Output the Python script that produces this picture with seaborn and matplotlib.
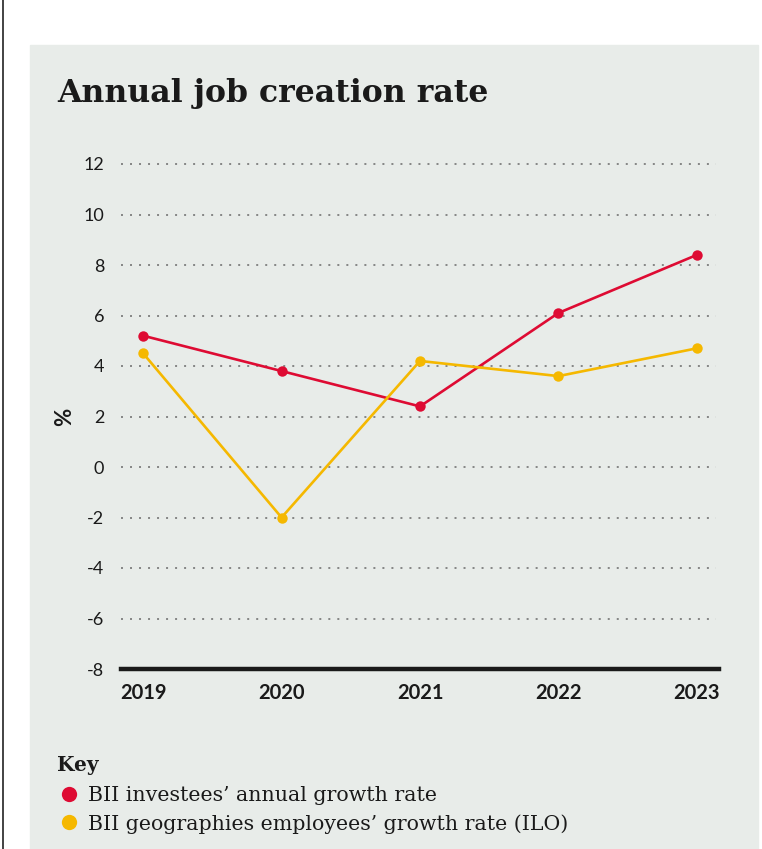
import matplotlib
matplotlib.use("Agg")
import matplotlib.pyplot as plt
from matplotlib.patches import Rectangle
from matplotlib.lines import Line2D
import seaborn as sns
import pandas as pd

# Data
years = [2019, 2020, 2021, 2022, 2023]
investees_growth = [5.2, 3.8, 2.4, 6.1, 8.4]
geographies_growth = [4.5, -2.0, 4.2, 3.6, 4.7]
series_names = ["BII investees’ annual growth rate",
                "BII geographies employees’ growth rate (ILO)"]
y_ticks = [12, 10, 8, 6, 4, 2, 0, -2, -4, -6, -8]

RED = "#DE0B33"
YELLOW = "#F5B800"
PANEL = "#E8ECE9"

df = pd.DataFrame({
    "year": years * 2,
    "value": investees_growth + geographies_growth,
    "series": [series_names[0]] * len(years) + [series_names[1]] * len(years),
})

sns.set_theme(style="white")
plt.rcParams["font.family"] = ["Lato", "DejaVu Sans"]

W, H = 762, 849
fig = plt.figure(figsize=(W / 100, H / 100), dpi=100)
fig.patch.set_facecolor("white")

# Background panel and left rule
fig.add_artist(Rectangle((30 / W, 0), (758 - 30) / W, (849 - 45) / H,
                         transform=fig.transFigure, color=PANEL, zorder=0))
fig.add_artist(Line2D([2.5 / W, 2.5 / W], [0, 1], transform=fig.transFigure,
                      color="#222222", lw=1.2))

ax = fig.add_axes([121 / W, 1 - 669 / H, (719 - 121) / W, (669 - 164) / H])
ax.set_facecolor("none")

sns.lineplot(data=df, x="year", y="value", hue="series",
             palette=[RED, YELLOW], marker="o", markersize=7.5,
             markeredgewidth=0, linewidth=1.9, ax=ax, legend=False, zorder=3)

ax.set_xlim(2018.84, 2023.16)
ax.set_ylim(-8, 12)
ax.set_yticks(y_ticks)
ax.set_yticklabels([str(t) if t >= 0 else f"-{abs(t)}" for t in y_ticks],
                   fontsize=13, color="#1a1a1a")
ax.set_xticks(years)
ax.set_xticklabels([str(y) for y in years], fontsize=14.5, fontweight="bold",
                   color="#1a1a1a")
ax.tick_params(axis="both", length=0)
ax.tick_params(axis="y", pad=12)
ax.tick_params(axis="x", pad=10)

for t in y_ticks[:-1]:
    ax.axhline(t, xmax=0.995, color="#6a6a6a", lw=1.1,
               linestyle=(0, (1.3, 4.6)), zorder=1, clip_on=False)

for s in ["top", "right", "left"]:
    ax.spines[s].set_visible(False)
ax.spines["bottom"].set_linewidth(3.2)
ax.spines["bottom"].set_color("#1a1a1a")
ax.spines["bottom"].set_zorder(4)

ax.set_xlabel("")
ax.set_ylabel("%", fontsize=16, fontweight="bold", color="#1a1a1a",
              labelpad=6)

# Title
fig.text(57 / W, 1 - 102 / H, "Annual job creation rate",
         fontsize=22.7, fontweight="bold", family="DejaVu Serif",
         color="#1a1a1a", va="baseline")

# Key
fig.text(57 / W, 1 - 771 / H, "Key", fontsize=14.5, fontweight="bold",
         family="DejaVu Serif", color="#1a1a1a", va="baseline")
handles = [Line2D([], [], marker="o", color=c, lw=0, markersize=11,
                  markeredgewidth=0) for c in (RED, YELLOW)]
fig.legend(handles, series_names, loc="upper left",
           bbox_to_anchor=(50 / W, 1 - 776 / H), frameon=False,
           handlelength=0.8, handletextpad=0.55, labelspacing=0.42,
           borderpad=0, prop={"family": "DejaVu Serif", "size": 14.8},
           labelcolor="#1a1a1a")

fig.savefig("out.png", dpi=100)
